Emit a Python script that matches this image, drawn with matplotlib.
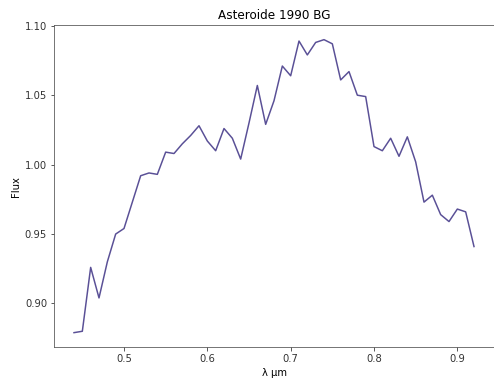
import matplotlib
matplotlib.use("Agg")
import matplotlib.pyplot as plt
import numpy as np

# Spectre de réflectance de l'astéroïde 1990 BG
wavelength = np.round(np.arange(0.44, 0.925, 0.01), 2)
flux = [
    0.879, 0.880, 0.926, 0.904, 0.930, 0.950, 0.954, 0.973, 0.992, 0.994,
    0.993, 1.009, 1.008, 1.015, 1.021, 1.028, 1.017, 1.010, 1.026, 1.019,
    1.004, 1.030, 1.057, 1.029, 1.046, 1.071, 1.064, 1.089, 1.079, 1.088,
    1.090, 1.087, 1.061, 1.067, 1.050, 1.049, 1.013, 1.010, 1.019, 1.006,
    1.020, 1.002, 0.973, 0.978, 0.964, 0.959, 0.968, 0.966, 0.941,
]

plt.rcParams["font.size"] = 10
fig = plt.figure(figsize=(494 / 72, 385 / 72), dpi=72)
ax = fig.add_axes([54 / 494, 1 - 347.3 / 385, 1 - 54 / 494, (347.3 - 25) / 385])

ax.plot(wavelength, flux, color="darkslateblue", alpha=0.9, linewidth=1.5)
ax.set_title("Asteroide 1990 BG", fontsize=12)
ax.set_xlabel("λ µm", fontsize=10)
ax.set_ylabel("Flux", fontsize=10)
ax.set_xticks([0.5, 0.6, 0.7, 0.8, 0.9])
ax.set_yticks([0.90, 0.95, 1.00, 1.05, 1.10])
ax.set_yticklabels(["0.90", "0.95", "1.00", "1.05", "1.10"])

for s in ax.spines.values():
    s.set_color("#555555")
ax.tick_params(colors="#333333", labelcolor="#333333")

fig.savefig("out.png", dpi=72)
